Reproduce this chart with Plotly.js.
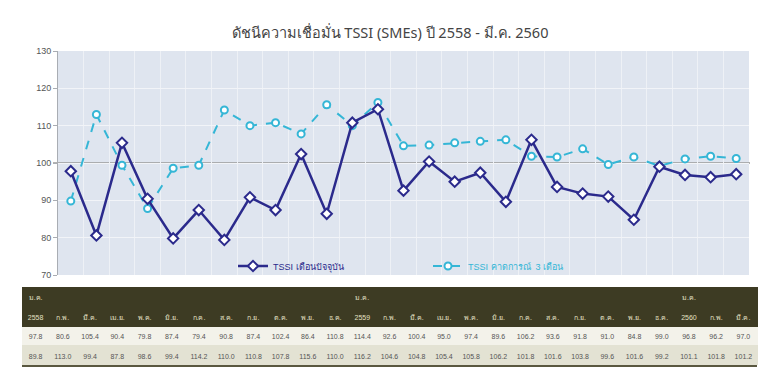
<!DOCTYPE html>
<html>
<head>
<meta charset="utf-8">
<script src="https://cdn.plot.ly/plotly-3.0.1.min.js"></script>
<style>html,body{margin:0;padding:0;background:#fff;}#chart{width:780px;height:381px;}</style>
</head>
<body>
<div id="chart"></div>
<script>
const monthLabels = ["2558","ก.พ.","มี.ค.","เม.ย.","พ.ค.","มิ.ย.","ก.ค.","ส.ค.","ก.ย.","ต.ค.","พ.ย.","ธ.ค.",
  "2559","ก.พ.","มี.ค.","เม.ย.","พ.ค.","มิ.ย.","ก.ค.","ส.ค.","ก.ย.","ต.ค.","พ.ย.","ธ.ค.",
  "2560","ก.พ.","มี.ค."];
const yearRow = ["ม.ค.","","","","","","","","","","","",
  "ม.ค.","","","","","","","","","","","",
  "ม.ค.","",""];
const tssiCurrent = [97.8,80.6,105.4,90.4,79.8,87.4,79.4,90.8,87.4,102.4,86.4,110.8,
  114.4,92.6,100.4,95.0,97.4,89.6,106.2,93.6,91.8,91.0,84.8,99.0,96.8,96.2,97.0];
const tssiForecast = [89.8,113.0,99.4,87.8,98.6,99.4,114.2,110.0,110.8,107.8,115.6,110.0,
  116.2,104.6,104.8,105.4,105.8,106.2,101.8,101.6,103.8,99.6,101.6,99.2,101.1,101.8,101.2];
const seriesNames = ["TSSI เดือนปัจจุบัน","TSSI คาดการณ์  3 เดือน"];

const idx = tssiCurrent.map((_, i) => i);
const navy = "#2b2a8c";
const cyan = "#35b6d6";
const headerBg = "#3d3b23";
const rowA = "#f3f2ea";
const rowB = "#e3e2d3";
const fmt = v => v.toFixed(1);

const traces = [
  {
    type: "scatter", mode: "lines+markers", x: idx, y: tssiForecast,
    name: '<span style="color:' + cyan + '">' + seriesNames[1] + '</span>',
    line: {color: cyan, width: 2, dash: "dash"},
    marker: {symbol: "circle", size: 7, color: "#ffffff", line: {color: cyan, width: 2}},
    xaxis: "x", yaxis: "y", legendrank: 2
  },
  {
    type: "scatter", mode: "lines+markers", x: idx, y: tssiCurrent,
    name: '<span style="color:' + navy + '">' + seriesNames[0] + '</span>',
    line: {color: navy, width: 2.5},
    marker: {symbol: "diamond", size: 8, color: "#ffffff", line: {color: navy, width: 2}},
    xaxis: "x", yaxis: "y", legendrank: 1
  },
  {
    type: "table",
    domain: {x: [22/780, 757/780], y: [1 - 366/381, 1 - 287/381]},
    columnwidth: idx.map(() => 1),
    header: {
      values: idx.map(i => [yearRow[i], monthLabels[i]]),
      fill: {color: headerBg},
      line: {color: headerBg, width: 1},
      font: {family: "Liberation Sans, Arial, sans-serif", size: 7, color: "#e4e0c4"},
      align: "center",
      height: 19.5
    },
    cells: {
      values: idx.map(i => [fmt(tssiCurrent[i]), fmt(tssiForecast[i])]),
      fill: {color: idx.map(() => [rowA, rowB])},
      line: {color: idx.map(() => [rowA, rowB]), width: 1},
      font: {family: "Liberation Sans, Arial, sans-serif", size: 7, color: "#555"},
      align: "center",
      height: 19.5
    }
  }
];

const layout = {
  width: 780, height: 381,
  margin: {l: 0, r: 0, t: 0, b: 0},
  paper_bgcolor: "#ffffff",
  plot_bgcolor: "#dfe5ef",
  showlegend: true,
  title: {
    text: "ดัชนีความเชื่อมั่น TSSI (SMEs) ปี 2558 - มี.ค. 2560",
    x: 0.5, xanchor: "center", y: 1 - 33/381, yanchor: "middle",
    font: {family: "Noto Sans, DejaVu Sans, sans-serif", size: 14.5, color: "#444"}
  },
  xaxis: {
    domain: [58/780, 749/780],
    range: [-0.5, 26.5],
    tick0: -0.5, dtick: 1,
    showticklabels: false,
    showgrid: true, gridcolor: "#eef1f6", gridwidth: 1,
    zeroline: false, showline: false, ticks: ""
  },
  yaxis: {
    domain: [1 - 275/381, 1 - 51/381],
    range: [70, 130],
    dtick: 10,
    showgrid: true, gridcolor: "#f2f4f8", gridwidth: 1,
    zeroline: false,
    showline: true, linecolor: "#a9adb3", linewidth: 1,
    ticks: "outside", ticklen: 4, tickcolor: "#a9adb3",
    tickfont: {family: "Liberation Sans, Arial, sans-serif", size: 9, color: "#555"}
  },
  shapes: [
    {type: "line", xref: "paper", yref: "y", x0: 53/780, x1: 750/780, y0: 100, y1: 100,
     line: {color: "#9a9a9a", width: 1.5}, layer: "below"},
    {type: "line", xref: "paper", yref: "paper", x0: 22/780, x1: 757/780, y0: 1 - 366/381, y1: 1 - 366/381,
     line: {color: "#5a5840", width: 2}}
  ],
  legend: {
    orientation: "h",
    x: 233/780, xanchor: "left",
    y: 1 - 266/381, yanchor: "middle",
    bgcolor: "rgba(0,0,0,0)",
    entrywidth: 150,
    traceorder: "normal",
    font: {family: "Liberation Sans, Arial, sans-serif", size: 9}
  }
};

Plotly.newPlot("chart", traces, layout, {displayModeBar: false, staticPlot: true});
</script>
</body>
</html>
